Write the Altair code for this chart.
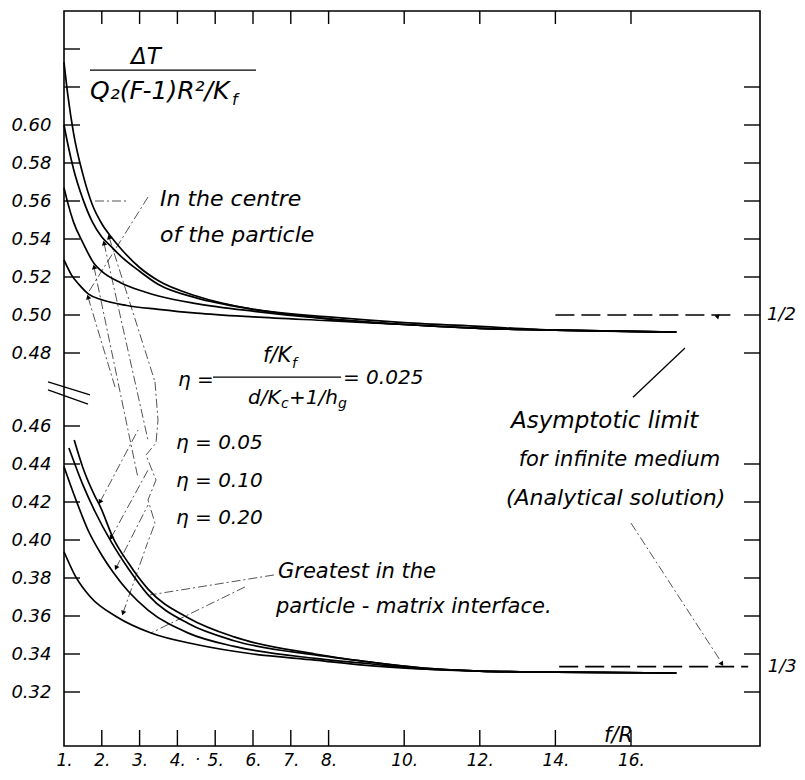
import altair as alt
import pandas as pd

W, H = 696, 735
FONT = "DejaVu Sans"

# ---------------- data ----------------
# Temperature in the centre of the particle (upper family)
ETA = ["0.025", "0.05", "0.10", "0.20"]
centre_x = [
    [1, 1.1, 1.25, 1.5, 1.75, 2.0, 2.25, 2.5, 3.0, 3.5, 4.5, 6, 8, 10, 12, 14, 17.2],
    [1, 1.1, 1.25, 1.5, 1.75, 2.0, 2.25, 2.5, 3.0, 3.5, 4.5, 6, 8, 10, 12, 14, 17.2],
    [1, 1.1, 1.25, 1.5, 1.8, 2.0, 2.5, 3.0, 3.5, 4.5, 6, 8, 10, 12, 14, 17.2],
    [1, 1.2, 1.4, 1.65, 2.0, 2.66, 3.5, 4.5, 6, 8, 10, 12, 14, 17.2],
]
centre_y = [
    [0.633, 0.616, 0.596, 0.574, 0.558, 0.548, 0.541, 0.535, 0.525, 0.518, 0.510, 0.503, 0.499, 0.496, 0.494, 0.492, 0.491],
    [0.600, 0.590, 0.577, 0.561, 0.549, 0.541, 0.536, 0.531, 0.523, 0.516, 0.509, 0.503, 0.498, 0.495, 0.493, 0.492, 0.491],
    [0.567, 0.559, 0.549, 0.538, 0.527, 0.523, 0.517, 0.513, 0.510, 0.506, 0.502, 0.498, 0.495, 0.493, 0.492, 0.491],
    [0.529, 0.521, 0.516, 0.511, 0.508, 0.505, 0.503, 0.501, 0.499, 0.497, 0.495, 0.493, 0.492, 0.491],
]
# Greatest, in the particle-matrix interface (lower family)
inter_x = [
    [1.27, 1.5, 1.82, 1.95, 2.3, 2.7, 3.23, 4.29, 5.5, 7.64, 9, 10.6, 12, 14, 17.2],
    [1.13, 1.5, 1.82, 2.25, 2.7, 3.23, 4.29, 5.5, 7.64, 9, 10.6, 12, 14, 17.2],
    [1, 1.3, 1.64, 2.0, 2.3, 2.7, 3.23, 4.29, 5.5, 7.64, 9, 10.6, 12, 14, 17.2],
    [1, 1.3, 1.7, 2.39, 3.32, 4.5, 6, 7.64, 9, 10.6, 12, 14, 17.2],
]
inter_y = [
    [0.4526, 0.438, 0.423, 0.418, 0.401, 0.388, 0.374, 0.359, 0.349, 0.340, 0.336, 0.3325, 0.331, 0.3305, 0.330],
    [0.4484, 0.429, 0.415, 0.399, 0.385, 0.371, 0.356, 0.347, 0.3395, 0.336, 0.3325, 0.331, 0.3305, 0.330],
    [0.4386, 0.422, 0.405, 0.392, 0.383, 0.373, 0.363, 0.351, 0.344, 0.3377, 0.335, 0.332, 0.331, 0.3305, 0.330],
    [0.3938, 0.381, 0.370, 0.3596, 0.3509, 0.345, 0.340, 0.3368, 0.334, 0.332, 0.331, 0.3305, 0.330],
]
# asymptotic limits (analytical solution)
asym_val = [0.5, 1 / 3]
asym_x0 = [14.0, 14.1]
asym_x1 = [18.7, 19.1]

# axes
x_label_vals = [1, 2, 3, 4, 5, 6, 7, 8, 10, 12, 14, 16]
x_tick_vals = [2, 3, 4, 5, 6, 7, 8, 10, 12, 14, 16]
y_label_vals = [0.32, 0.34, 0.36, 0.38, 0.40, 0.42, 0.44, 0.46,
                0.48, 0.50, 0.52, 0.54, 0.56, 0.58, 0.60]
y_left_ticks = y_label_vals + [0.62, 0.64]
y_right_ticks = [0.32, 0.34, 0.36, 0.38, 0.40, 0.42, 0.44,
                 0.48, 0.50, 0.52, 0.54, 0.56, 0.58, 0.60, 0.62]

# annotation texts (data coordinates, left aligned)
txt = [
    ("ΔT", 2.772, 0.6358, 23),
    ("Q₂(F-1)R²/K", 1.688, 0.6179, 25),
    ("f", 5.444, 0.6132, 16),
    ("In the centre", 3.540, 0.5611, 22),
    ("of the particle", 3.540, 0.5421, 22),
    ("η =", 4.016, 0.4726, 20),
    ("f/K", 6.265, 0.4792, 21),
    ("f", 7.032, 0.4770, 14),
    ("d/K", 5.868, 0.4677, 20),
    ("c", 6.741, 0.4660, 14),
    ("+1/h", 6.952, 0.4677, 20),
    ("g", 8.249, 0.4660, 14),
    ("= 0.025", 8.381, 0.4732, 20),
    ("η = 0.05", 3.963, 0.4511, 20),
    ("η = 0.10", 3.963, 0.4311, 20),
    ("η = 0.20", 3.963, 0.4116, 20),
    ("Asymptotic limit", 12.825, 0.4614, 23),
    ("for infinite medium", 13.03, 0.4421, 21),
    ("(Analytical solution)", 12.693, 0.4221, 22),
    ("Greatest in the", 6.661, 0.3832, 21),
    ("particle - matrix interface.", 6.608, 0.3647, 21),
    ("f/R", 15.286, 0.2968, 21),
    ("1/2", 19.60, 0.5, 18),
    ("1/3", 19.62, 1 / 3, 18),
    ("·", 4.466, 0.2842, 16),
]
# fraction bars (x0, x1, y)
bars = [(1.688, 6.079, 0.6289), (4.942, 8.328, 0.4734)]
# dash-dot leader lines (x, y, x2, y2)
leaders = [
    (3.222, 0.5621, 1.635, 0.5116),
    (2.190, 0.5411, 3.407, 0.4721),
    (2.058, 0.5379, 3.222, 0.4526),
    (1.794, 0.5253, 2.958, 0.4326),
    (1.635, 0.5095, 2.349, 0.4707),
    (1.952, 0.4200, 2.958, 0.4579),
    (2.243, 0.4011, 3.222, 0.4368),
    (2.376, 0.3853, 3.222, 0.4184),
    (2.561, 0.3616, 3.169, 0.3963),
    (6.556, 0.3816, 3.275, 0.3711),
    (5.788, 0.3753, 3.302, 0.3511),
    (16.0, 0.4089, 18.354, 0.3368),
    (1.820, 0.5600, 2.640, 0.5600),
]
solid_lines = [
    (16.053, 0.4679, 17.429, 0.4826),
    (0.577, 0.4721, 1.688, 0.4685),   # axis break
    (0.577, 0.4699, 1.635, 0.4660),
]
zig_x = [3.407, 3.487, 3.434, 3.169, 3.434, 3.222, 3.407, 3.169]
zig_y = [0.4721, 0.4616, 0.4511, 0.4447, 0.4316, 0.4211, 0.4089, 0.3963]
arrows = [
    (2.190, 0.5411, 342), (2.058, 0.5379, 347), (1.794, 0.5253, 348), (1.635, 0.5095, 343),
    (1.952, 0.4200, 208), (2.243, 0.4011, 209), (2.376, 0.3853, 207), (2.561, 0.3616, 199),
    (18.302, 0.4995, 46), (18.407, 0.3347, 147),
]

# ---------------- tables ----------------
rows = []
for fam, xs_, ys_ in (("centre", centre_x, centre_y), ("interface", inter_x, inter_y)):
    for e, xx, yy in zip(ETA, xs_, ys_):
        for a, b in zip(xx, yy):
            rows.append({"x": a, "y": b, "s": fam + e})
curves = pd.DataFrame(rows)
asym = pd.DataFrame({"x": asym_x0, "x2": asym_x1, "y": asym_val})
tdf = pd.DataFrame(txt, columns=["t", "x", "y", "fs"])
bdf = pd.DataFrame(bars, columns=["x", "x2", "y"])
ldf = pd.DataFrame(leaders, columns=["x", "y", "x2", "y2"])
sdf = pd.DataFrame(solid_lines, columns=["x", "y", "x2", "y2"])
zdf = pd.DataFrame({"x": zig_x, "y": zig_y, "o": list(range(len(zig_x)))})
adf = pd.DataFrame(arrows, columns=["x", "y", "ang"])
xt = pd.DataFrame({"x": x_tick_vals})
ylt = pd.DataFrame({"y": y_left_ticks})
yrt = pd.DataFrame({"y": y_right_ticks})

# ---------------- scales / encodings ----------------
xs = alt.Scale(domain=[1, 19.413], nice=False, zero=False)
# broken axis: the 0.46-0.48 interval is stretched to make room for the break
ys = alt.Scale(domain=[0.29158, 0.46, 0.48, 0.66], range=[735, 415, 342, 0],
               nice=False, zero=False)
x_axis = alt.Axis(values=x_label_vals, labelExpr="datum.value + '.'", ticks=False,
                  domain=False, grid=False, labelPadding=6, labelFontSize=17,
                  labelFlush=False, labelOverlap=False, title=None)
y_axis = alt.Axis(values=y_label_vals, format=".2f", ticks=False, domain=False,
                  grid=False, labelPadding=13, labelFontSize=18, labelOverlap=False,
                  title=None)


def X(f="x"):
    return alt.X(f"{f}:Q", scale=xs, axis=x_axis)


def Y(f="y"):
    return alt.Y(f"{f}:Q", scale=ys, axis=y_axis)


lines = alt.Chart(curves).mark_line(color="black", strokeWidth=1.7,
                                    interpolate="monotone").encode(
    x=X(), y=Y(), detail="s:N")

asym_l = alt.Chart(asym).mark_rule(color="black", strokeWidth=1.6,
                                   strokeDash=[19, 7]).encode(
    x=X(), x2="x2:Q", y=Y())

texts = alt.Chart(tdf).mark_text(align="left", baseline="middle", font=FONT,
                                 fontStyle="italic", color="black").encode(
    x=X(), y=Y(), text="t:N", size=alt.Size("fs:Q", scale=None, legend=None))

bar_l = alt.Chart(bdf).mark_rule(color="black", strokeWidth=1.4).encode(
    x=X(), x2="x2:Q", y=Y())

lead_l = alt.Chart(ldf).mark_rule(color="black", strokeWidth=0.8,
                                  strokeDash=[9, 3, 2, 3], opacity=0.85).encode(
    x=X(), y=Y(), x2="x2:Q", y2="y2:Q")

solid_l = alt.Chart(sdf).mark_rule(color="black", strokeWidth=1.3).encode(
    x=X(), y=Y(), x2="x2:Q", y2="y2:Q")

zig_l = alt.Chart(zdf).mark_line(color="black", strokeWidth=0.8,
                                 strokeDash=[9, 3, 2, 3], opacity=0.85).encode(
    x=X(), y=Y(), order="o:Q")

arr = alt.Chart(adf).mark_point(shape="triangle-up", filled=True, color="black",
                                size=28, opacity=1).encode(
    x=X(), y=Y(), angle=alt.Angle("ang:Q", scale=None))

tick_b = alt.Chart(xt).mark_rule(color="black", strokeWidth=1.4).encode(
    x=X(), y=alt.value(H - 16), y2=alt.value(H))
tick_t = alt.Chart(xt).mark_rule(color="black", strokeWidth=1.4).encode(
    x=X(), y=alt.value(0), y2=alt.value(13))
tick_l = alt.Chart(ylt).mark_rule(color="black", strokeWidth=1.4).encode(
    y=Y(), x=alt.value(0), x2=alt.value(16))
tick_r = alt.Chart(yrt).mark_rule(color="black", strokeWidth=1.4).encode(
    y=Y(), x=alt.value(W - 16), x2=alt.value(W))

chart = alt.layer(
    tick_b, tick_t, tick_l, tick_r, lines, asym_l, bar_l, lead_l, zig_l,
    solid_l, arr, texts
).properties(
    width=W, height=H,
    autosize=alt.AutoSizeParams(type="none"),
    padding={"left": 56, "top": 3, "right": 37, "bottom": 26},
    background="white",
).configure_view(
    stroke="black", strokeWidth=1.6
).configure_axis(
    labelFont=FONT, labelFontStyle="italic", labelColor="black"
)

chart.save("out.html", embed_options={"renderer": "svg", "actions": False})
